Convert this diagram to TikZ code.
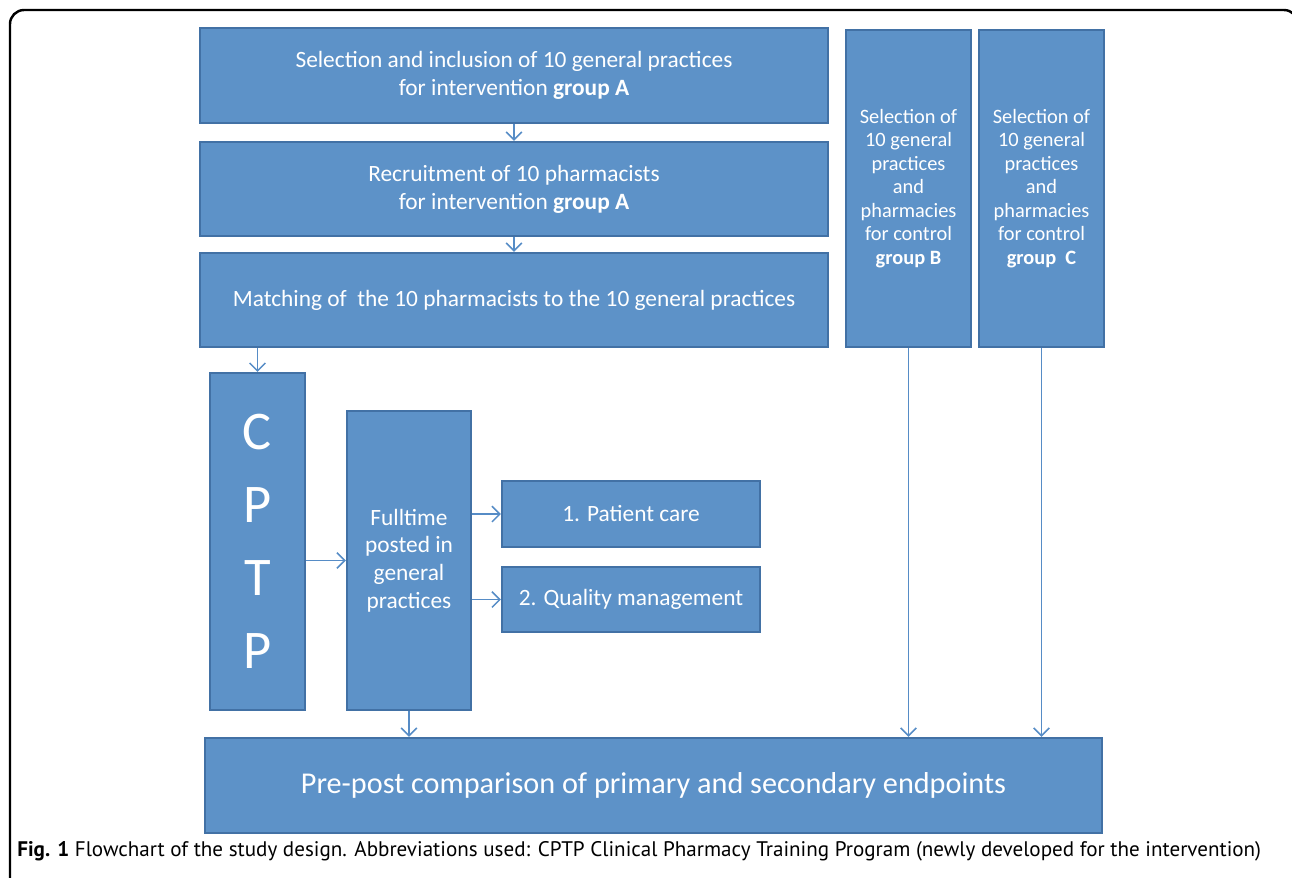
\documentclass[tikz,border=0pt]{standalone}
\usepackage{fontspec}
\setmainfont{Carlito}
\newfontfamily\capfont{PT Sans}
\usetikzlibrary{positioning,arrows.meta}

\definecolor{boxblue}{RGB}{93,146,200}
\definecolor{boxedge}{RGB}{66,113,165}
\definecolor{arrblue}{RGB}{86,140,198}

\tikzset{
  box/.style={draw=boxedge, line width=1.2pt, fill=boxblue, text=white, align=center, inner sep=0pt},
  arr/.style={draw=arrblue, line width=0.9pt, -{Straight Barb[length=4.5pt,width=9pt]}}
}

\begin{document}
\begin{tikzpicture}[x=0.02cm,y=-0.02cm]
    \useasboundingbox (0,0) rectangle (1292,877);

    % Frame round the figure
    \draw[line width=1.4pt, rounded corners=8pt] (10,10) rectangle (1298,900);

    % Intervention group A
    \node[box, minimum width=12.56cm, minimum height=1.9cm, font=\fontsize{13.3}{16}\selectfont] (selA) at (514,75.5) {Selection and inclusion of 10 general practices\\for intervention \textbf{group A}};
    \node[box, minimum width=12.56cm, minimum height=1.88cm, font=\fontsize{13.3}{16}\selectfont] (recA) at (514,189) {Recruitment of 10 pharmacists\\for intervention \textbf{group A}};
    \node[box, minimum width=12.56cm, minimum height=1.88cm, font=\fontsize{13.3}{16}\selectfont] (match) at (514,300) {Matching of\ \ the 10 pharmacists to the 10 general practices};

    % Control groups
    \foreach \n/\x/\g in {grpB/908.5/B, grpC/1041.5/\ C} {
      \node[box, minimum width=2.5cm, minimum height=6.34cm, font=\fontsize{11.6}{13.4}\selectfont] (\n) at (\x,188.5) {Selection of\\10 general\\practices\\and\\pharmacies\\for control\\\textbf{group \g}};
    }

    % Training program
    \node[box, minimum width=1.9cm, minimum height=6.74cm, font=\fontsize{31}{41.5}\selectfont] (cptp) at (257.5,541.5) {C\\P\\T\\P};
    \node[box, minimum width=2.48cm, minimum height=5.98cm, font=\fontsize{13.3}{15.8}\selectfont] (full) at (409,560.5) {Fulltime\\posted in\\general\\practices};
    \node[box, minimum width=5.16cm, minimum height=1.32cm, font=\fontsize{13.3}{16}\selectfont] (care) at (631,514) {1. Patient care};
    \node[box, minimum width=5.16cm, minimum height=1.3cm, font=\fontsize{13.3}{16}\selectfont] (qual) at (631,599.5) {2. Quality management};

    % Endpoints
    \node[box, minimum width=17.94cm, minimum height=1.9cm, font=\fontsize{17.2}{21}\selectfont] (prepost) at (653.5,785.5) {Pre-post comparison of primary and secondary endpoints};

    % Arrows
    \draw[arr] (selA) -- (recA);
    \draw[arr] (recA) -- (match);
    \draw[arr] (match.south -| cptp) -- (cptp.north);
    \draw[arr] (cptp.east |- full.west) -- (full);
    \draw[arr] (full.east |- care.west) -- (care);
    \draw[arr] (full.east |- qual.west) -- (qual);
    \draw[arr] (full) -- (full |- prepost.north);
    \foreach \n in {grpB, grpC} {
      \draw[arr] (\n) -- (\n |- prepost.north);
    }

    % Caption
    \node[anchor=west, inner sep=0pt, font=\capfont\fontsize{12}{14}\selectfont] (cap) at (17,851) {\textbf{Fig. 1} Flowchart of the study design. Abbreviations used: CPTP Clinical Pharmacy Training Program (newly developed for the intervention)};
\end{tikzpicture}
\end{document}
